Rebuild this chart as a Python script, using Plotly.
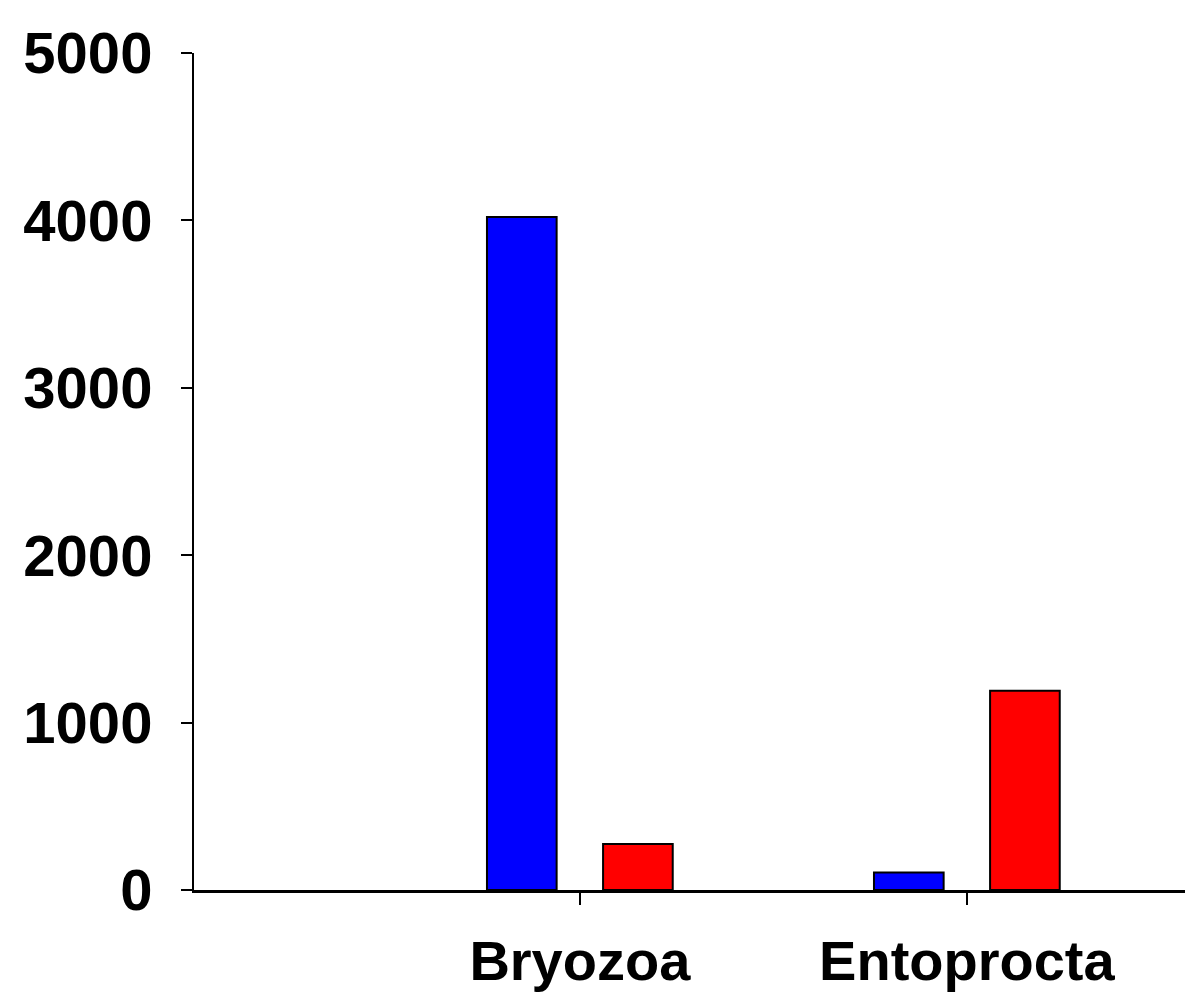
import plotly.graph_objects as go

categories = ["Bryozoa", "Entoprocta"]
blue_values = [4020, 105]
red_values = [275, 1190]
y_ticks = [0, 1000, 2000, 3000, 4000, 5000]

fig = go.Figure()
fig.add_trace(go.Bar(x=categories, y=blue_values, marker=dict(color="#0000FF", line=dict(color="black", width=2)), name="blue"))
fig.add_trace(go.Bar(x=categories, y=red_values, marker=dict(color="#FF0000", line=dict(color="black", width=2)), name="red"))

fig.update_layout(
    width=1193, height=985,
    margin=dict(l=186, r=0, t=45, b=103),
    paper_bgcolor="white", plot_bgcolor="white",
    barmode="group", bargap=0.4, bargroupgap=0.4,
    showlegend=False,
    font=dict(family="Liberation Sans, Arial, sans-serif", color="black"),
)
fig.update_xaxes(
    type="category", categoryorder="array", categoryarray=categories,
    range=[-0.997, 1.605], automargin=False,
    showline=True, linecolor="black", linewidth=3,
    ticks="outside", ticklen=12, tickwidth=2, tickcolor="black",
    tickfont=dict(size=56, family="Liberation Sans, Arial, sans-serif", weight="bold"),
    ticklabelstandoff=8,
    showgrid=False, zeroline=False,
)
fig.update_yaxes(
    range=[0, 5000], tickvals=y_ticks, ticktext=[str(v) for v in y_ticks],
    automargin=False,
    showline=True, linecolor="black", linewidth=2,
    ticks="outside", ticklen=11, tickwidth=2, tickcolor="black",
    tickfont=dict(size=58, family="Liberation Sans, Arial, sans-serif", weight="bold"),
    ticklabelstandoff=17,
    showgrid=False, zeroline=False,
)
fig.write_html("out.html")
